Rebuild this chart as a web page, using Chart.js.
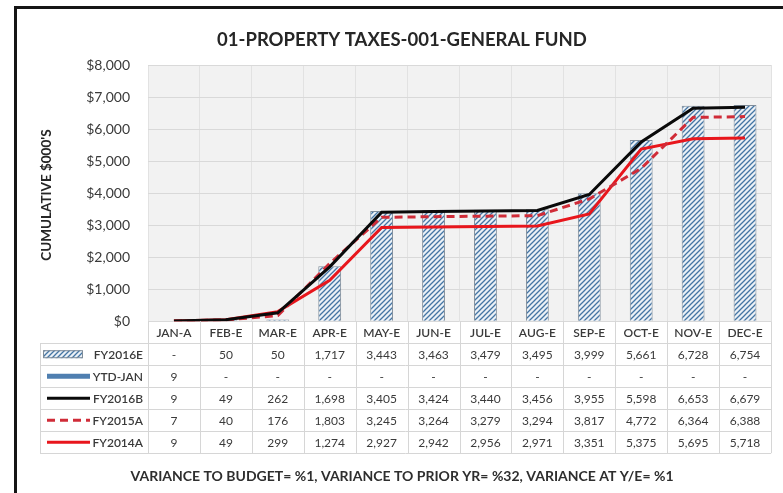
<!DOCTYPE html>
<html>
<head>
<meta charset="utf-8">
<title>01-PROPERTY TAXES-001-GENERAL FUND</title>
<script src="https://cdn.jsdelivr.net/npm/chart.js@4.4.0/dist/chart.umd.min.js"></script>
<style>
  html, body { margin: 0; padding: 0; background: #fff; }
  canvas { display: block; }
</style>
</head>
<body>
<canvas id="chart" width="783" height="493"></canvas>
<script>
const months = ['JAN-A', 'FEB-E', 'MAR-E', 'APR-E', 'MAY-E', 'JUN-E', 'JUL-E', 'AUG-E', 'SEP-E', 'OCT-E', 'NOV-E', 'DEC-E'];
const fy2016E = [null, 50, 50, 1717, 3443, 3463, 3479, 3495, 3999, 5661, 6728, 6754];
const ytdJan  = [9, null, null, null, null, null, null, null, null, null, null, null];
const fy2016B = [9, 49, 262, 1698, 3405, 3424, 3440, 3456, 3955, 5598, 6653, 6679];
const fy2015A = [7, 40, 176, 1803, 3245, 3264, 3279, 3294, 3817, 4772, 6364, 6388];
const fy2014A = [9, 49, 299, 1274, 2927, 2942, 2956, 2971, 3351, 5375, 5695, 5718];
const yTicks  = [0, 1000, 2000, 3000, 4000, 5000, 6000, 7000, 8000];

const FONT = 'Lato, "Open Sans", sans-serif';
const TXT = '#3a3a3a';

// diagonal hatch used for the FY2016E bars
function hatch() {
  const c = document.createElement('canvas');
  c.width = 5; c.height = 5;
  const g = c.getContext('2d');
  g.fillStyle = '#eaf0f6';
  g.fillRect(0, 0, 5, 5);
  g.strokeStyle = '#4475a4';
  g.lineWidth = 1.3;
  g.beginPath();
  g.moveTo(-1, 6); g.lineTo(6, -1);
  g.moveTo(-1, 1); g.lineTo(1, -1);
  g.moveTo(4, 6); g.lineTo(6, 4);
  g.stroke();
  return g.createPattern(c, 'repeat');
}
const hatchFill = hatch();

const fmt = v => v == null ? '-' : v.toLocaleString('en-US');

// grey plot background, outer frame and the vertical axis caption
const backdrop = {
  id: 'backdrop',
  beforeDraw(chart) {
    const { ctx, chartArea: a } = chart;
    ctx.save();
    ctx.fillStyle = '#f2f2f2';
    ctx.fillRect(a.left, a.top, a.right - a.left, a.bottom - a.top);
    ctx.fillStyle = '#151515';
    ctx.fillRect(14, 6, 783, 3);
    ctx.fillRect(14, 6, 3, 493);
    ctx.translate(47, (a.top + a.bottom) / 2 + 2);
    ctx.rotate(-Math.PI / 2);
    ctx.textAlign = 'center';
    ctx.textBaseline = 'middle';
    ctx.fillStyle = '#262626';
    ctx.font = 'bold 13.5px ' + FONT;
    ctx.fillText("CUMULATIVE $000'S", 0, 0);
    ctx.restore();
  }
};

// data table under the plot, columns taken from the x scale
const dataTable = {
  id: 'dataTable',
  afterDraw(chart) {
    const { ctx, chartArea: a } = chart;
    const x = chart.scales.x;
    const colW = x.getPixelForValue(1) - x.getPixelForValue(0);
    const top = a.bottom, headH = 22, rowH = 22, legL = 40;
    const rows = chart.data.datasets;
    const bottom = top + headH + rowH * rows.length;

    ctx.save();
    ctx.strokeStyle = '#d6d6d6';
    ctx.lineWidth = 1;
    ctx.beginPath();
    for (let r = 0; r <= rows.length; r++) {
      const y = Math.round(top + headH + r * rowH) + 0.5;
      ctx.moveTo(legL, y); ctx.lineTo(a.right, y);
    }
    ctx.moveTo(legL + 0.5, top + headH); ctx.lineTo(legL + 0.5, bottom);
    for (let i = 0; i <= months.length; i++) {
      const xx = Math.round(x.getPixelForValue(i) - colW / 2) + 0.5;
      ctx.moveTo(xx, top); ctx.lineTo(xx, bottom);
    }
    ctx.stroke();

    ctx.textAlign = 'center';
    ctx.textBaseline = 'middle';
    ctx.fillStyle = TXT;
    ctx.font = '600 12px ' + FONT;
    months.forEach((m, i) => ctx.fillText(m, x.getPixelForValue(i), top + headH / 2 + 1));

    ctx.font = '12px ' + FONT;
    rows.forEach((ds, r) => {
      const cy = top + headH + r * rowH + rowH / 2 + 1;
      ds.data.forEach((v, i) => ctx.fillText(fmt(v), x.getPixelForValue(i), cy));
    });

    // legend keys
    ctx.textAlign = 'right';
    ctx.font = '600 12px ' + FONT;
    rows.forEach((ds, r) => {
      const cy = top + headH + r * rowH + rowH / 2;
      ctx.fillStyle = TXT;
      ctx.fillText(ds.label, 143, cy + 1);
      ctx.save();
      if (ds.type === 'bar') {
        ctx.fillStyle = ds.backgroundColor;
        ctx.fillRect(43, cy - 4, 40, 8);
        ctx.strokeStyle = ds.borderColor;
        ctx.strokeRect(43.5, cy - 3.5, 39, 7);
      } else {
        ctx.strokeStyle = ds.borderColor;
        ctx.lineWidth = ds.keyWidth;
        ctx.setLineDash(ds.borderDash || []);
        ctx.beginPath();
        ctx.moveTo(47, cy); ctx.lineTo(90, cy);
        ctx.stroke();
      }
      ctx.restore();
    });
    ctx.restore();
  }
};

const lineBase = { type: 'line', pointRadius: 0, borderWidth: 3, tension: 0, spanGaps: false };

new Chart(document.getElementById('chart'), {
  type: 'bar',
  data: {
    labels: months,
    datasets: [
      { type: 'bar', label: 'FY2016E', data: fy2016E, backgroundColor: hatchFill, borderColor: '#7f8c99', borderWidth: 1, order: 10,
        categoryPercentage: 1, barPercentage: 0.44 },
      { ...lineBase, label: 'YTD-JAN', data: ytdJan, borderColor: '#4f7fb0', borderWidth: 5, keyWidth: 5, order: 4 },
      { ...lineBase, label: 'FY2016B', data: fy2016B, borderColor: '#0a0a0a', keyWidth: 3, order: 1 },
      { ...lineBase, label: 'FY2015A', data: fy2015A, borderColor: '#d02c38', borderDash: [8, 5], keyWidth: 3, order: 2 },
      { ...lineBase, label: 'FY2014A', data: fy2014A, borderColor: '#e8161c', keyWidth: 3, order: 3 }
    ]
  },
  options: {
    responsive: false,
    animation: false,
    events: [],
    layout: { padding: { left: 33, right: 12, top: 0, bottom: 0 } },
    plugins: {
      legend: { display: false },
      tooltip: { enabled: false },
      title: {
        display: true,
        text: '01-PROPERTY TAXES-001-GENERAL FUND',
        color: '#262626',
        font: { family: FONT, size: 18.5, weight: 'bold' },
        padding: { top: 29, bottom: 13.8 }
      },
      subtitle: {
        display: true,
        position: 'bottom',
        text: 'VARIANCE TO BUDGET= %1, VARIANCE TO PRIOR YR= %32, VARIANCE AT Y/E= %1',
        color: '#2e2e2e',
        font: { family: FONT, size: 14, weight: 'bold' },
        padding: { top: 147, bottom: 8 }
      }
    },
    scales: {
      x: {
        grid: { color: '#e2e2e2', offset: true, drawTicks: false },
        border: { display: false },
        ticks: { display: false }
      },
      y: {
        min: 0,
        max: 8000,
        afterBuildTicks: s => { s.ticks = yTicks.map(v => ({ value: v })); },
        afterFit: s => { s.width = 115; },
        grid: { color: '#d9d9d9', drawTicks: false },
        border: { display: false },
        ticks: {
          padding: 18,
          color: TXT,
          font: { family: FONT, size: 14 },
          callback: v => '$' + v.toLocaleString('en-US')
        }
      }
    }
  },
  plugins: [backdrop, dataTable]
});
</script>
</body>
</html>
